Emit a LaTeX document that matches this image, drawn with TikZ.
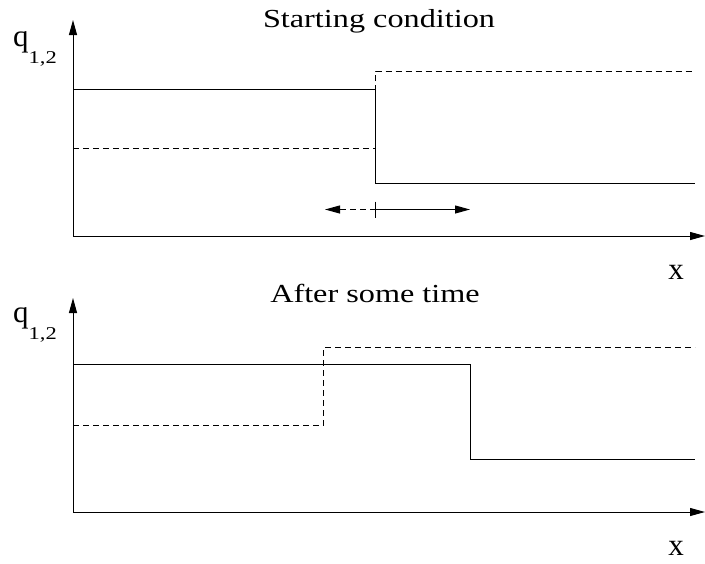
\documentclass[tikz,border=0pt]{standalone}
\usepackage{fontspec}
\usepackage{graphicx}
\setmainfont{Liberation Serif}
\usetikzlibrary{arrows.meta}
\newcommand{\qlabel}{{\fontsize{31}{31}\selectfont q}\raisebox{-17pt}{\scalebox{1.25}[1]{\fontsize{18}{18}\selectfont 1,2}}}
\begin{document}
\begin{tikzpicture}[x=1pt,y=-1pt,
  tip/.style={-{Triangle[length=15pt,width=8pt]}},
  axis/.style={line width=1pt,tip},
  solidline/.style={line width=1pt},
  dashline/.style={line width=1pt,dash pattern=on 6pt off 4pt},
  lbl/.style={font=\fontsize{31}{31}\selectfont,inner sep=0pt,anchor=base},
  qlbl/.style={inner sep=0pt,anchor=base west},
  ttl/.style={font=\fontsize{26}{30}\selectfont,inner sep=0pt,anchor=base}]
\useasboundingbox (0,0) rectangle (705,563);
% ---- top panel ----
\node[ttl] (t1) at (379,27) {\scalebox{1.24}[1]{Starting condition}};
\coordinate (o1) at (73,236);
\coordinate (ytop1) at (73,20);
\coordinate (xend1) at (705,236);
\draw[axis] (o1) -- (ytop1);
\draw[axis] (o1) -- (xend1);
\node[qlbl] (q1) at (13,46) {\qlabel};
\node[lbl] (x1) at (676,279) {x};
\coordinate (s1a) at (73,89);
\coordinate (s1b) at (375.5,89);
\coordinate (s1c) at (375.5,183);
\coordinate (s1d) at (695,183);
\draw[solidline] (s1a) -- (s1b) -- (s1c) -- (s1d);
\coordinate (d1a) at (73,148.5);
\coordinate (d1b) at (375.5,148.5);
\coordinate (d1c) at (375.5,71);
\coordinate (d1d) at (695,71);
\draw[dashline] (d1a) -- (d1b) -- (d1c) -- (d1d);
\coordinate (m1) at (375.5,209.5);
\coordinate (ml) at (325,209.5);
\coordinate (mr) at (470,209.5);
\coordinate (tk1) at (375.5,201.5);
\coordinate (tk2) at (375.5,217.5);
\draw[dashline,tip] (m1) -- (ml);
\draw[solidline,tip] (m1) -- (mr);
\draw[line width=0.8pt] (tk1) -- (tk2);
% ---- bottom panel ----
\node[ttl] (t2) at (375,302) {\scalebox{1.24}[1]{After some time}};
\coordinate (o2) at (73,512);
\coordinate (ytop2) at (73,298);
\coordinate (xend2) at (705,512);
\draw[axis] (o2) -- (ytop2);
\draw[axis] (o2) -- (xend2);
\node[qlbl] (q2) at (13,322) {\qlabel};
\node[lbl] (x2) at (676,555) {x};
\coordinate (s2a) at (73,364.5);
\coordinate (s2b) at (470.5,364.5);
\coordinate (s2c) at (470.5,459);
\coordinate (s2d) at (695,459);
\draw[solidline] (s2a) -- (s2b) -- (s2c) -- (s2d);
\coordinate (d2a) at (73,425);
\coordinate (d2b) at (323.5,425);
\coordinate (d2c) at (323.5,347);
\coordinate (d2d) at (695,347);
\draw[dashline] (d2a) -- (d2b) -- (d2c) -- (d2d);
\end{tikzpicture}
\end{document}
